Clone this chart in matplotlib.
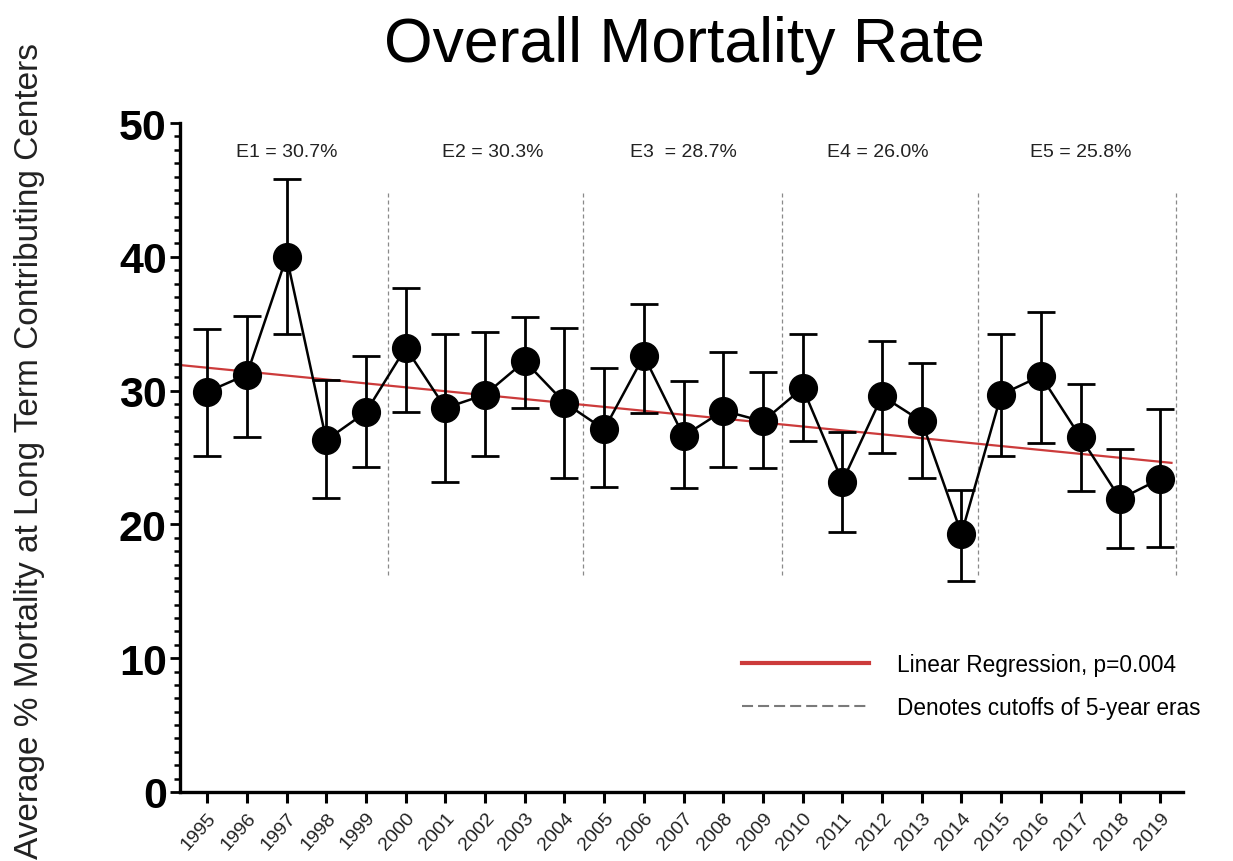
import numpy as np
import matplotlib
matplotlib.use("Agg")
import matplotlib.pyplot as plt
from matplotlib.lines import Line2D
from matplotlib.ticker import MultipleLocator

plt.rcParams["font.family"] = ["Liberation Sans", "DejaVu Sans"]

# data
years = list(range(1995, 2020))
mortality = [29.9, 31.2, 40.0, 26.3, 28.4, 33.2, 28.7, 29.7, 32.2, 29.1,
             27.1, 32.6, 26.6, 28.5, 27.7, 30.2, 23.2, 29.6, 27.7, 19.3,
             29.7, 31.1, 26.5, 21.9, 23.4]
err_upper = [34.6, 35.6, 45.8, 30.8, 32.6, 37.7, 34.2, 34.4, 35.5, 34.7,
             31.7, 36.5, 30.7, 32.9, 31.4, 34.2, 26.9, 33.7, 32.1, 22.6,
             34.2, 35.9, 30.5, 25.6, 28.6]
err_lower = [25.1, 26.5, 34.2, 22.0, 24.3, 28.4, 23.2, 25.1, 28.7, 23.5,
             22.8, 28.3, 22.7, 24.3, 24.2, 26.2, 19.4, 25.3, 23.5, 15.8,
             25.1, 26.1, 22.5, 18.2, 18.3]

# fitted regression line (ends, as drawn)
reg_years = [1994.35, 2019.29]
reg_values = [31.9, 24.6]

era_cutoffs = [1999.55, 2004.47, 2009.48, 2014.42, 2019.4]
era_labels = ["E1 = 30.7%", "E2 = 30.3%", "E3  = 28.7%", "E4 = 26.0%", "E5 = 25.8%"]
era_label_x = [1997.0, 2002.2, 2007.0, 2011.9, 2017.0]

W, H = 1233, 862
fig = plt.figure(figsize=(W / 100, H / 100), dpi=100)
ax = fig.add_axes([180 / W, 1 - 793 / H, (1183 - 180) / W, (793 - 124) / H])

y = np.array(mortality)
yerr = [y - np.array(err_lower), np.array(err_upper) - y]

# era cutoffs
ax.vlines(era_cutoffs, 16.2, 45.0, colors="#8a8a8a", linewidth=0.9,
          linestyles=(0, (3.2, 2.4)), zorder=1)

# regression
ax.plot(reg_years, reg_values, color="#cc3b3b", linewidth=1.6, zorder=2)

# data with error bars
ax.errorbar(years, y, yerr=yerr, fmt="-o", color="black", markersize=20,
            linewidth=1.8, elinewidth=2.0, capsize=10, capthick=2.0, zorder=3)

for lab, xx in zip(era_labels, era_label_x):
    ax.text(xx, 47.9, lab, ha="center", va="center", fontsize=14, color="#222222")

ax.set_xlim(1994.315, 2019.58)
ax.set_ylim(0, 50)
ax.set_xticks(years)
ax.set_xticklabels([str(v) for v in years], rotation=48, ha="right",
                   rotation_mode="anchor", fontsize=14, color="#222222")
ax.set_yticks(range(0, 51, 10))
ax.yaxis.set_minor_locator(MultipleLocator(1))
for lab in ax.get_yticklabels():
    lab.set_fontsize(31)
    lab.set_fontweight("bold")

ax.tick_params(axis="y", which="major", length=7.5, width=2, pad=2)
ax.tick_params(axis="y", which="minor", length=4.5, width=1.8)
ax.tick_params(axis="x", which="major", length=8, width=2.2, pad=4)
for side in ["top", "right"]:
    ax.spines[side].set_visible(False)
for side in ["left", "bottom"]:
    ax.spines[side].set_linewidth(2.4)

handles = [
    Line2D([], [], color="#cc3b3b", linewidth=3),
    Line2D([], [], color="#7a7a7a", linewidth=1.5, linestyle=(0, (5.3, 2.4))),
]
ax.legend(handles, ["Linear Regression, p=0.004", "Denotes cutoffs of 5-year eras"],
          loc="center left", bbox_to_anchor=(742 / W, 1 - 687 / H),
          bbox_transform=fig.transFigure, frameon=False, fontsize=16.3,
          handlelength=5.6, handletextpad=1.25, labelspacing=0.9,
          borderpad=0, borderaxespad=0)

fig.text(684 / W, 1 - 62 / H, "Overall Mortality Rate", ha="center",
         va="baseline", fontsize=45)
fig.text(30 / W, 1 - 451 / H, "Average % Mortality at Long Term Contributing Centers",
         rotation=90, ha="center", va="center", fontsize=24, color="#222222")

fig.savefig("out.png", dpi=100)
